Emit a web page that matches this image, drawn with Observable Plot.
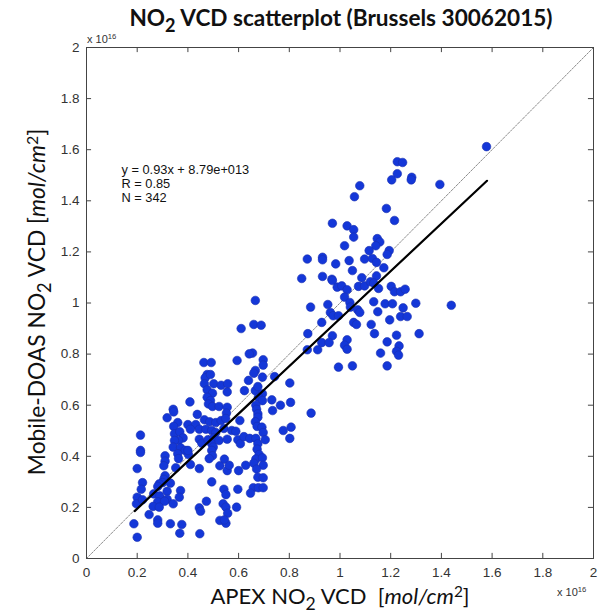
<!DOCTYPE html>
<html><head><meta charset="utf-8">
<script src="https://cdn.jsdelivr.net/npm/d3@7"></script>
<script src="https://cdn.jsdelivr.net/npm/@observablehq/plot@0.6"></script>
<style>body{margin:0;background:#fff} svg{display:block}</style>
</head><body><div id="chart"></div>
<script>
// values in units of 1e16 molec/cm2
const apexX = [
1.578,1.226,1.247,1.226,1.204,1.283,1.281,1.394,1.078,1.057,1.183,1.215,0.970,1.028,1.054,1.054,1.147,1.157,1.141,1.018,
1.115,1.194,1.186,0.871,0.931,0.931,1.036,1.097,1.128,1.144,0.983,1.173,1.049,0.849,0.931,0.968,0.970,1.086,1.144,0.989,
1.007,1.028,1.073,1.097,1.120,1.133,1.152,1.202,1.215,1.239,1.257,1.018,0.884,0.952,1.039,1.041,1.070,1.078,1.133,1.178,
1.207,1.249,1.299,1.439,0.962,0.973,0.994,1.149,1.239,1.265,1.196,0.928,1.054,1.065,1.123,0.873,0.970,1.136,1.223,1.312,
0.928,0.957,1.028,1.018,1.028,1.186,1.233,1.223,1.231,0.871,0.912,1.160,0.994,1.049,1.186,0.886,
0.666,0.610,0.660,0.689,
0.463,0.492,0.594,0.655,0.642,0.697,0.697,0.666,0.660,0.476,0.468,0.489,0.465,0.502,0.531,0.557,0.639,0.694,0.742,0.802,
0.476,0.497,0.476,0.489,0.481,0.497,0.555,0.623,0.666,0.676,0.694,0.678,0.694,0.731,0.805,0.408,0.342,0.344,0.523,0.555,
0.552,0.437,0.668,0.671,0.676,0.734,0.765,0.318,0.465,0.486,0.510,0.531,0.549,0.605,0.676,0.666,0.360,0.344,0.400,0.431,
0.410,0.445,0.471,0.494,0.510,0.542,0.573,0.589,0.673,0.692,0.697,0.776,0.807,0.802,0.213,0.347,0.368,0.381,0.363,0.347,
0.342,0.371,0.389,0.445,0.455,0.479,0.502,0.494,0.500,0.494,0.523,0.555,0.597,0.607,0.621,0.644,0.668,0.676,0.673,0.681,
0.668,0.694,0.697,0.705,0.402,0.400,0.213,0.213,0.310,0.310,0.305,0.360,0.363,0.410,0.445,0.497,0.484,0.526,0.544,0.555,
0.563,0.600,0.628,0.660,0.671,0.200,0.310,0.305,0.300,0.352,0.676,0.697,0.494,0.221,0.216,0.287,0.281,0.318,0.331,0.542,
0.550,0.597,0.658,0.678,0.697,0.647,0.200,0.197,0.221,0.265,0.289,0.281,0.318,0.308,0.371,0.366,0.342,0.263,0.287,0.445,
0.450,0.473,0.539,0.550,0.557,0.592,0.247,0.281,0.281,0.331,0.376,0.187,0.526,0.550,0.544,0.368,0.447,0.200
];
const doasY = [
1.612,1.553,1.550,1.506,1.482,1.492,1.482,1.464,1.459,1.416,1.370,1.323,1.312,1.302,1.287,1.258,1.252,1.239,1.224,1.224,
1.205,1.205,1.190,1.172,1.179,1.169,1.166,1.172,1.174,1.159,1.153,1.138,1.127,1.096,1.104,1.093,1.088,1.099,1.106,1.062,
1.067,1.052,1.065,1.067,1.083,1.078,1.057,1.065,1.044,1.044,1.054,1.023,0.984,0.994,1.002,0.984,0.973,0.963,1.005,0.997,
0.997,0.981,0.999,0.991,0.963,0.950,0.950,0.966,0.947,0.947,0.934,0.924,0.924,0.916,0.916,0.880,0.872,0.880,0.874,0.880,
0.845,0.845,0.856,0.835,0.819,0.848,0.832,0.811,0.796,0.817,0.817,0.804,0.749,0.754,0.754,0.569,
1.010,0.900,0.916,0.913,
0.767,0.767,0.775,0.804,0.801,0.778,0.757,0.736,0.725,0.720,0.707,0.720,0.684,0.684,0.678,0.684,0.697,0.710,0.712,0.687,
0.660,0.647,0.631,0.618,0.605,0.595,0.652,0.657,0.657,0.673,0.645,0.631,0.618,0.621,0.611,0.613,0.584,0.574,0.595,0.592,
0.569,0.564,0.600,0.584,0.566,0.579,0.600,0.551,0.543,0.535,0.532,0.540,0.548,0.540,0.553,0.535,0.532,0.517,0.524,0.524,
0.506,0.506,0.506,0.501,0.493,0.509,0.501,0.498,0.517,0.514,0.493,0.501,0.514,0.470,0.483,0.488,0.496,0.472,0.462,0.462,
0.436,0.433,0.423,0.467,0.451,0.465,0.472,0.449,0.436,0.423,0.462,0.467,0.465,0.449,0.477,0.470,0.470,0.449,0.428,0.407,
0.389,0.394,0.365,0.465,0.407,0.423,0.423,0.415,0.402,0.381,0.363,0.410,0.391,0.368,0.352,0.402,0.391,0.363,0.389,0.344,
0.365,0.344,0.365,0.373,0.350,0.352,0.324,0.310,0.297,0.355,0.318,0.316,0.300,0.297,0.271,0.292,0.282,0.263,0.295,0.271,
0.250,0.271,0.277,0.277,0.277,0.256,0.240,0.214,0.230,0.253,0.245,0.222,0.232,0.224,0.266,0.240,0.214,0.204,0.201,0.198,
0.185,0.224,0.214,0.201,0.177,0.201,0.172,0.151,0.138,0.136,0.133,0.136,0.149,0.138,0.151,0.099,0.097,0.083
];
const tickValues = [0,0.2,0.4,0.6,0.8,1,1.2,1.4,1.6,1.8,2];
const tickLabels = ["0","0.2","0.4","0.6","0.8","1","1.2","1.4","1.6","1.8","2"];
const fitSlope = 0.93, fitIntercept = 0.00879;   // 8.79e13 / 1e16
const fitRange = [0.19, 1.58];
const identityRange = [0, 2];
const statsText = ["y = 0.93x + 8.79e+013", "R = 0.85", "N = 342"];

const points = apexX.map((x, i) => ({x, y: doasY[i]}));
const fitLine = fitRange.map(x => ({x, y: fitSlope * x + fitIntercept}));
const idLine = identityRange.map(v => ({x: v, y: v}));
const tickLen = 0.02;

const W = 601, H = 616;
const plot = Plot.plot({
  width: W, height: H,
  marginLeft: 86, marginRight: 8, marginTop: 47, marginBottom: 58,
  style: {fontFamily: "'Liberation Sans', Arial, sans-serif", background: "#fff"},
  x: {domain: [0, 2]},
  y: {domain: [0, 2]},
  marks: [
    Plot.line(idLine, {x: "x", y: "y", stroke: "#8a8a8a", strokeWidth: 1, strokeDasharray: "2,1.5"}),
    Plot.dot(points, {x: "x", y: "y", r: 4.3, fill: "#1437d8", stroke: "#1a2fb0", strokeWidth: 0.6}),
    Plot.line(fitLine, {x: "x", y: "y", stroke: "#000", strokeWidth: 2.2}),
    Plot.ruleX(tickValues, {x: d => d, y1: 0, y2: tickLen, stroke: "#444"}),
    Plot.ruleX(tickValues, {x: d => d, y1: 2 - tickLen, y2: 2, stroke: "#444"}),
    Plot.ruleY(tickValues, {y: d => d, x1: 0, x2: tickLen, stroke: "#444"}),
    Plot.ruleY(tickValues, {y: d => d, x1: 2 - tickLen, x2: 2, stroke: "#444"}),
    Plot.frame({stroke: "#444", strokeWidth: 1}),
    Plot.axisX({ticks: tickValues, tickFormat: (d) => tickLabels[tickValues.indexOf(d)], tickSize: 0, tickPadding: 9, label: null, fontSize: 13.5, fill: "#333"}),
    Plot.axisY({ticks: tickValues, tickFormat: (d) => tickLabels[tickValues.indexOf(d)], tickSize: 0, tickPadding: 7, label: null, fontSize: 13.5, fill: "#333"}),
    Plot.text([statsText.join("\n")], {frameAnchor: "top-left", dx: 35, dy: 116, textAnchor: "start", lineAnchor: "top", lineHeight: 1.12, fontSize: 12.8, fill: "#111"})
  ]
});
document.getElementById("chart").appendChild(plot);

const svg = d3.select(plot);
function rich(g, parts) {
  parts.forEach(p => {
    const ts = g.append("tspan").text(p.t);
    if (p.italic) ts.attr("font-style", "italic");
    if (p.sub) ts.attr("baseline-shift", "-35%").attr("font-size", "0.8em");
    if (p.sup) ts.attr("baseline-shift", "45%").attr("font-size", "0.7em");
  });
  return g;
}
const labelFont = "Lato, 'Open Sans', sans-serif";
// title
rich(svg.append("text").attr("x", 341).attr("y", 26).attr("text-anchor", "middle").attr("font-family", labelFont)
  .attr("font-size", 22.6).attr("font-weight", "bold").attr("fill", "#111"),
  [{t: "NO"}, {t: "2", sub: true}, {t: " VCD scatterplot (Brussels 30062015)"}]);
// x label
rich(svg.append("text").attr("x", 340).attr("y", 604).attr("text-anchor", "middle").attr("font-family", labelFont)
  .attr("font-size", 22).attr("fill", "#111"),
  [{t: "APEX NO"}, {t: "2", sub: true}, {t: " VCD  ["}, {t: "mol/cm", italic: true}, {t: "2", sup: true}, {t: "]"}]);
// y label
rich(svg.append("text").attr("transform", "translate(45,302) rotate(-90)").attr("text-anchor", "middle").attr("font-family", labelFont)
  .attr("font-size", 22.8).attr("fill", "#111"),
  [{t: "Mobile-DOAS NO"}, {t: "2", sub: true}, {t: " VCD ["}, {t: "mol/cm", italic: true}, {t: "2", sup: true}, {t: "]"}]);
// exponent labels
rich(svg.append("text").attr("x", 87).attr("y", 43).attr("text-anchor", "start").attr("font-family", "'Liberation Sans', Arial, sans-serif")
  .attr("font-size", 11).attr("fill", "#333"), [{t: "x 10"}, {t: "16", sup: true}]);
rich(svg.append("text").attr("x", 557).attr("y", 596).attr("text-anchor", "start").attr("font-family", "'Liberation Sans', Arial, sans-serif")
  .attr("font-size", 11).attr("fill", "#333"), [{t: "x 10"}, {t: "16", sup: true}]);
</script></body></html>
